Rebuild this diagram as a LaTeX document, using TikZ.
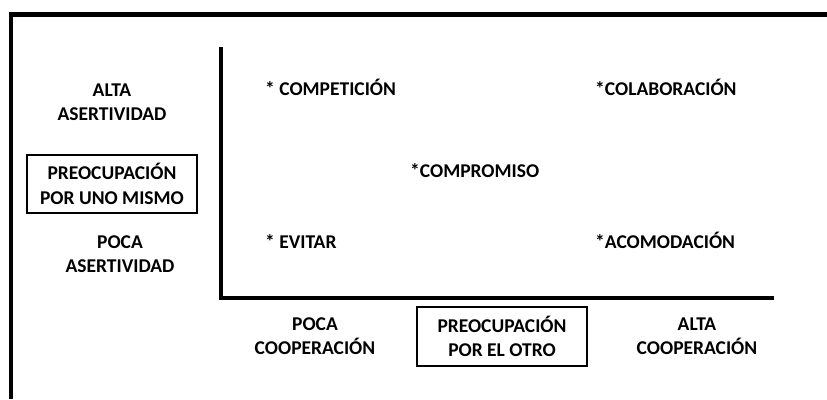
\documentclass[tikz,border=0pt]{standalone}
\usepackage{fontspec}
\setmainfont{Carlito}
\begin{document}
\begin{tikzpicture}[x=1pt,y=-1pt,
  txt/.style={font=\fontsize{19.5}{24.5}\selectfont\bfseries, inner sep=0pt, align=center},
  star/.style={font=\fontsize{19.5}{24.5}\selectfont\bfseries, inner sep=0pt, anchor=base west},
  framebox/.style={draw, line width=1.2pt, minimum width=170pt, minimum height=58pt, inner sep=0pt, align=center, font=\fontsize{19.5}{24.5}\selectfont\bfseries},
  border/.style={line width=4.5pt},
  axis/.style={line width=4pt}]
\useasboundingbox (0,0) rectangle (827,399);
\fill[white] (0,0) rectangle (827,399);
% outer frame (top and left)
\coordinate (fr0) at (11,14.5);
\coordinate (frT) at (827,14.5);
\coordinate (frL) at (11,399);
\draw[border] (frL) -- (fr0) -- (frT);
% axes
\coordinate (ay) at (221,47);
\coordinate (o) at (221,297.5);
\coordinate (ax) at (774,297.5);
\draw[axis] (ay) -- (o) -- (ax);
% left labels
\node[txt] (altaA) at (112,102) {ALTA\\ASERTIVIDAD};
\node[framebox] (self) at (112,184) {PREOCUPACIÓN\\POR UNO MISMO};
\node[txt] (pocaA) at (120,254) {POCA\\ASERTIVIDAD};
% bottom labels
\node[txt] (pocaC) at (315,336) {POCA\\COOPERACIÓN};
\node[framebox, minimum height=59pt] (other) at (502,336.5) {PREOCUPACIÓN\\POR EL OTRO};
\node[txt] (altaC) at (697,336) {ALTA\\COOPERACIÓN};
% styles
\node[star] (comp) at (265,95) {* COMPETICIÓN};
\node[star] (cola) at (595,95) {*COLABORACIÓN};
\node[star] (compr) at (410,177) {*COMPROMISO};
\node[star] (evit) at (265,248) {* EVITAR};
\node[star] (acom) at (595,248) {*ACOMODACIÓN};
\end{tikzpicture}
\end{document}
